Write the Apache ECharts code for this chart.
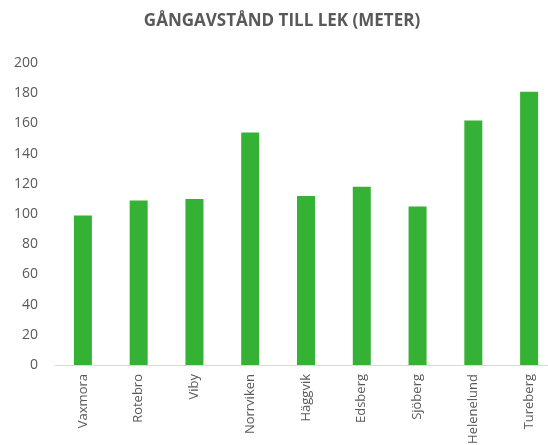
<!DOCTYPE html>
<html><head><meta charset="utf-8">
<script src="https://cdn.jsdelivr.net/npm/echarts@6/dist/echarts.min.js"></script>
<style>html,body{margin:0;padding:0;background:#fff}#c{width:548px;height:445px}</style>
</head><body><div id="c"></div>
<script>
const title = "GÅNGAVSTÅND TILL LEK (METER)";
const categories = ["Vaxmora","Rotebro","Viby","Norrviken","Häggvik","Edsberg","Sjöberg","Helenelund","Tureberg"];
const values = [99, 109, 110, 154, 112, 118, 105, 162, 181];
const yTicks = {min: 0, max: 200, interval: 20};

const chart = echarts.init(document.getElementById('c'), null, {renderer: 'canvas'});
chart.setOption({
  animation: false,
  title: {text: title, left: 277, top: 8, textAlign: 'center',
    textStyle: {fontFamily: 'Open Sans', fontWeight: 'bold', fontSize: 17, color: '#595959'}},
  grid: {left: 55, top: 63, width: 502, bottom: 80, containLabel: false, outerBoundsMode: 'none'},
  xAxis: {type: 'category', data: categories,
    axisLine: {lineStyle: {color: '#d9d9d9', width: 1}},
    axisTick: {show: false},
    axisLabel: {rotate: 90, interval: 0, margin: 9, fontFamily: 'Open Sans', fontSize: 13, color: '#595959'}},
  yAxis: {type: 'value', min: yTicks.min, max: yTicks.max, interval: yTicks.interval,
    splitLine: {show: false}, axisLine: {show: false}, axisTick: {show: false},
    axisLabel: {margin: 17, fontFamily: 'Open Sans', fontSize: 14, color: '#595959'}},
  series: [{type: 'bar', data: values, barWidth: 18, itemStyle: {color: '#35b235'}}]
});
</script></body></html>
